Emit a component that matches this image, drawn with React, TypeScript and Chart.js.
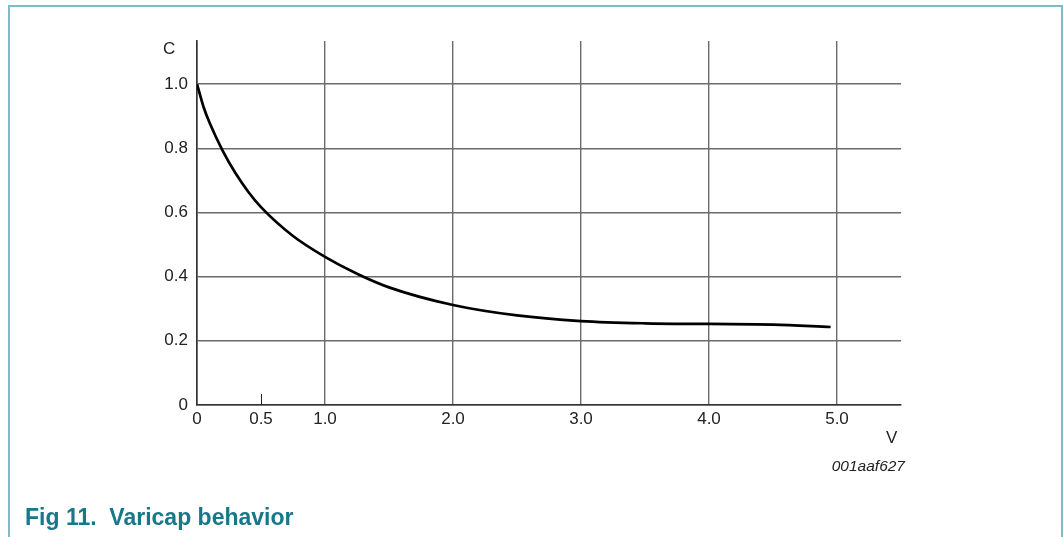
import React, { useEffect, useRef } from "react";
import { Chart, registerables } from "chart.js";

Chart.register(...registerables);

const voltage = [0, 0.05, 0.1, 0.2, 0.3, 0.4, 0.5, 0.75, 1.0, 1.25, 1.5, 2.0, 2.5, 3.0, 3.5, 4.0, 4.5, 4.95];
const capacitance = [1.0, 0.93, 0.8775, 0.7925, 0.7225, 0.6645, 0.6165, 0.5265, 0.4615, 0.409, 0.3665, 0.3115, 0.279, 0.2615, 0.2545, 0.2525, 0.2505, 0.243];
const xTicks = [0, 0.5, 1, 2, 3, 4, 5];
const xTickLabels = ["0", "0.5", "1.0", "2.0", "3.0", "4.0", "5.0"];
const yTicks = [0, 0.2, 0.4, 0.6, 0.8, 1.0];
const yTickLabels = ["0", "0.2", "0.4", "0.6", "0.8", "1.0"];

const FONT = "'Liberation Sans', Arial, sans-serif";

const halfTickPlugin = {
  id: "halfTick",
  afterDatasetsDraw(chart: any) {
    const x = chart.scales.x;
    const ctx = chart.ctx;
    const px = x.getPixelForValue(0.5);
    const bottom = chart.chartArea.bottom;
    ctx.save();
    ctx.strokeStyle = "#222";
    ctx.lineWidth = 1;
    ctx.beginPath();
    ctx.moveTo(Math.round(px) + 0.5, bottom);
    ctx.lineTo(Math.round(px) + 0.5, bottom - 11);
    ctx.stroke();
    ctx.restore();
  },
};

export default function App() {
  const ref = useRef<HTMLCanvasElement | null>(null);
  useEffect(() => {
    if (!ref.current) return;
    const chart = new Chart(ref.current, {
      type: "line",
      data: {
        datasets: [
          {
            data: voltage.map((v, i) => ({ x: v, y: capacitance[i] })),
            borderColor: "#000",
            borderWidth: 2.7,
            pointRadius: 0,
            cubicInterpolationMode: "monotone",
            fill: false,
          },
        ],
      },
      options: {
        animation: false,
        responsive: false,
        maintainAspectRatio: false,
        devicePixelRatio: 1,
        layout: { padding: { left: 0, top: 41, right: 162, bottom: 102 } },
        plugins: { legend: { display: false }, tooltip: { enabled: false }, title: { display: false } },
        scales: {
          x: {
            type: "linear",
            min: 0,
            max: 5.5,
            afterBuildTicks: (scale: any) => {
              scale.ticks = xTicks.map((v) => ({ value: v }));
            },
            afterFit: (scale: any) => {
              scale.height = 30;
            },
            ticks: {
              autoSkip: false,
              maxRotation: 0,
              padding: 4,
              color: "#222",
              font: { family: FONT, size: 17 },
              callback: (v: any) => {
                const i = xTicks.indexOf(Number(v));
                return i >= 0 ? xTickLabels[i] : "";
              },
            },
            grid: {
              drawTicks: false,
              lineWidth: 1.4,
              color: (c: any) => (c.tick && c.tick.value === 0.5 ? "rgba(0,0,0,0)" : "#6b6b6b"),
            },
            border: { display: true, color: "#333", width: 1.6 },
          },
          y: {
            type: "linear",
            min: 0,
            max: 1.134,
            afterBuildTicks: (scale: any) => {
              scale.ticks = yTicks.map((v) => ({ value: v }));
            },
            afterFit: (scale: any) => {
              scale.width = 197;
            },
            ticks: {
              padding: 9,
              color: "#222",
              font: { family: FONT, size: 17 },
              callback: (v: any) => {
                const i = yTicks.findIndex((t) => Math.abs(t - Number(v)) < 1e-6);
                return i >= 0 ? yTickLabels[i] : "";
              },
            },
            grid: { drawTicks: false, lineWidth: 1.4, color: "#6b6b6b" },
            border: { display: true, color: "#333", width: 1.6 },
          },
        },
      },
      plugins: [halfTickPlugin],
    } as any);
    return () => chart.destroy();
  }, []);

  return (
    <div>
      <div
        style={{
          position: "fixed",
          left: 8,
          top: 5,
          width: 1055,
          height: 532,
          borderTop: "2px solid #7bbcc6",
          borderLeft: "2px solid #7bbcc6",
          borderRight: "2px solid #7bbcc6",
          boxSizing: "border-box",
        }}
      />
      <canvas
        ref={ref}
        width={1063}
        height={537}
        style={{ position: "fixed", left: 0, top: 0, width: 1063, height: 537 }}
      />
      <div style={{ position: "fixed", left: 163, top: 39, fontFamily: FONT, fontSize: 17, color: "#222", lineHeight: "20px" }}>C</div>
      <div style={{ position: "fixed", left: 886, top: 428, fontFamily: FONT, fontSize: 17, color: "#222", lineHeight: "20px" }}>V</div>
      <div
        style={{
          position: "fixed",
          right: 1063 - 905,
          top: 457,
          fontFamily: FONT,
          fontSize: 15.5,
          lineHeight: "18px",
          fontStyle: "italic",
          color: "#222",
        }}
      >
        001aaf627
      </div>
      <div
        style={{
          position: "fixed",
          left: 25,
          top: 504,
          fontFamily: FONT,
          fontSize: 23,
          lineHeight: "26px",
          fontWeight: "bold",
          color: "#17788a",
          whiteSpace: "pre",
        }}
      >
        {"Fig 11.  Varicap behavior"}
      </div>
    </div>
  );
}
